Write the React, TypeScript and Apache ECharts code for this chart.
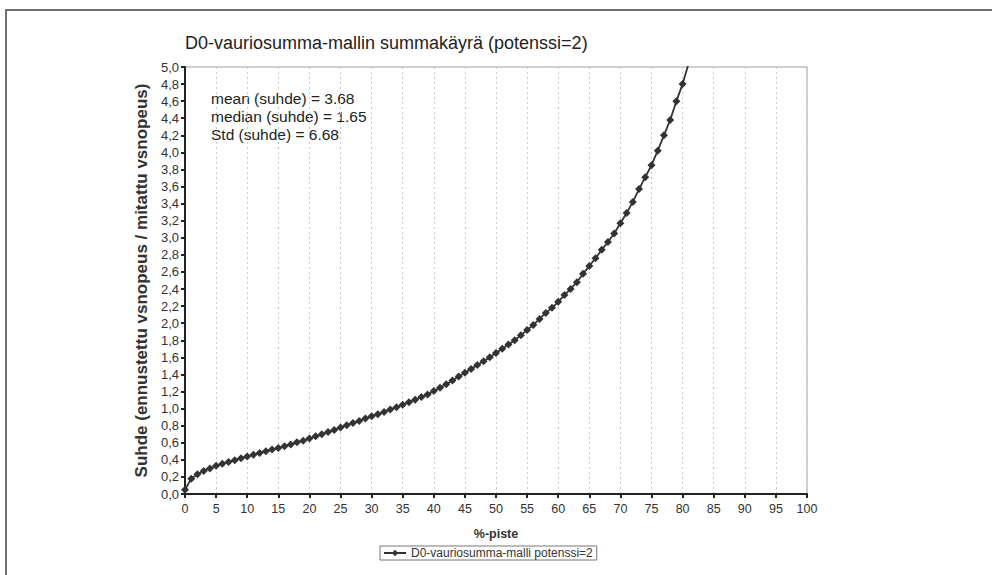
import React, { useEffect, useRef } from "react";
import * as echarts from "echarts";

// Percentile points (%-piste) and the ratio predicted / measured speed
const percentiles: number[] = Array.from({ length: 82 }, (_, i) => i);
const ratioValues: number[] = [
  0.05, 0.18, 0.23, 0.27, 0.3, 0.33, 0.355, 0.375, 0.395, 0.42,
  0.44, 0.46, 0.48, 0.5, 0.52, 0.54, 0.56, 0.58, 0.605, 0.625,
  0.65, 0.675, 0.7, 0.725, 0.75, 0.78, 0.805, 0.83, 0.855, 0.885,
  0.91, 0.935, 0.96, 0.99, 1.015, 1.045, 1.075, 1.105, 1.135, 1.165,
  1.205, 1.245, 1.285, 1.33, 1.375, 1.42, 1.465, 1.51, 1.555, 1.6,
  1.65, 1.7, 1.75, 1.8, 1.86, 1.92, 1.98, 2.05, 2.12, 2.18,
  2.25, 2.33, 2.4, 2.48, 2.58, 2.67, 2.76, 2.86, 2.95, 3.05,
  3.17, 3.29, 3.42, 3.57, 3.71, 3.85, 4.02, 4.2, 4.38, 4.6,
  4.8, 5.05,
];

const statLines: string[] = [
  "mean (suhde) = 3.68",
  "median (suhde) = 1.65",
  "Std (suhde) = 6.68",
];

const titleText = "D0-vauriosumma-mallin summakäyrä (potenssi=2)";
const seriesName = "D0-vauriosumma-malli potenssi=2";
const xAxisName = "%-piste";
const yAxisName = "Suhde (ennustettu vsnopeus / mitattu vsnopeus)";

const FONT = "'Liberation Sans', Arial, sans-serif";
const INK = "#333333";

export default function App() {
  const ref = useRef<HTMLDivElement>(null);

  useEffect(() => {
    if (!ref.current) return;
    const chart = echarts.init(ref.current, undefined, { renderer: "svg" });

    const data = percentiles.map((p, i) => [p, ratioValues[i]]);

    chart.setOption({
      animation: false,
      backgroundColor: "#ffffff",
      textStyle: { fontFamily: FONT, color: INK },
      grid: {
        left: 185,
        right: 992 - 807,
        top: 67,
        bottom: 575 - 494,
        show: true,
        borderColor: "#a0a0a0",
        borderWidth: 1,
        backgroundColor: "transparent",
      },
      legend: {
        left: 380,
        top: 546,
        data: [seriesName],
        borderColor: "#777",
        borderWidth: 1,
        borderRadius: 0,
        padding: [1, 4, 1, 3],
        itemWidth: 22,
        itemHeight: 8,
        itemGap: 4,
        textStyle: { fontFamily: FONT, fontSize: 12, color: INK },
      },
      xAxis: {
        type: "value",
        min: 0,
        max: 100,
        interval: 5,
        name: xAxisName,
        nameLocation: "middle",
        nameGap: 33,
        nameTextStyle: { fontFamily: FONT, fontSize: 12.5, fontWeight: "bold", color: INK },
        axisLine: { show: true, onZero: false, lineStyle: { color: "#222", width: 2 } },
        axisTick: { show: true, length: 4, inside: false, lineStyle: { color: "#222", width: 2 } },
        axisLabel: { fontFamily: FONT, fontSize: 12.5, color: INK, margin: 8 },
        splitLine: { show: true, lineStyle: { color: "#c8c8c8", type: [2, 3], width: 1 } },
      },
      yAxis: {
        type: "value",
        min: 0,
        max: 5,
        interval: 0.2,
        name: yAxisName,
        nameLocation: "middle",
        nameGap: 32,
        nameTextStyle: { fontFamily: FONT, fontSize: 17, fontWeight: "bold", color: INK },
        axisLine: { show: true, onZero: false, lineStyle: { color: "#222", width: 2 } },
        axisTick: { show: true, length: 4, inside: false, lineStyle: { color: "#222", width: 2 } },
        axisLabel: {
          fontFamily: FONT,
          fontSize: 13,
          color: INK,
          margin: 6,
          formatter: (v: number) => v.toFixed(1).replace(".", ","),
        },
        splitLine: { show: false },
      },
      series: [
        {
          name: seriesName,
          type: "line",
          data,
          clip: true,
          symbol: "diamond",
          symbolSize: 8,
          showAllSymbol: true,
          lineStyle: { color: "#333", width: 1.8 },
          itemStyle: { color: "#333" },
          z: 5,
        },
      ],
      graphic: [
        {
          type: "rect",
          silent: true,
          shape: { x: 6, y: 10, width: 1000, height: 600 },
          style: { fill: "none", stroke: "#444", lineWidth: 1.5 },
        },
        {
          type: "text",
          silent: true,
          x: 185,
          y: 34,
          style: {
            text: titleText,
            fontFamily: FONT,
            fontSize: 18,
            fill: "#222",
            verticalAlign: "top",
          },
        },
        ...statLines.map((t, i) => ({
          type: "text",
          silent: true,
          x: 211,
          y: 90 + i * 18,
          style: {
            text: t,
            fontFamily: FONT,
            fontSize: 15.5,
            fill: "#222",
            verticalAlign: "top",
          },
        })),
      ],
    });

    return () => chart.dispose();
  }, []);

  return (
    <div
      ref={ref}
      style={{ position: "fixed", left: 0, top: 0, width: 992, height: 575 }}
    />
  );
}
